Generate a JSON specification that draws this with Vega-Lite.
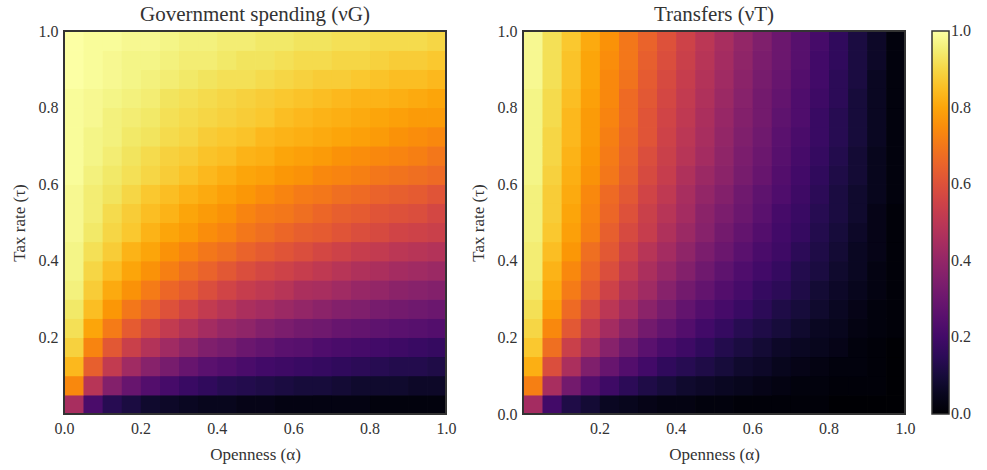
{
"$schema":"https://vega.github.io/schema/vega-lite/v6.json",
"background":"white",
"padding":{"left":10,"top":4,"right":5,"bottom":3},
"config":{
"font":"Liberation Serif",
"view":{"stroke":null},
"axis":{"grid":false,"domain":false,"ticks":false,"labelFontSize":16,"labelColor":"#333","titleFontSize":17,"titleFontWeight":"normal","titleColor":"#333","labelPadding":6,"labelFlush":false,"titlePadding":10},
"title":{"fontSize":21,"fontWeight":"normal","color":"#333","offset":-2},
"legend":{"gradientLength":383,"gradientThickness":17,"gradientStrokeColor":"#333","gradientStrokeWidth":1.5,"labelFontSize":16,"labelColor":"#333","labelOffset":5,"padding":0,"offset":17}
},
"datasets":{
"G":[
{"a":0,"t":0,"v":0.45},{"a":0.05,"t":0,"v":0.22},{"a":0.1,"t":0,"v":0.14},{"a":0.15,"t":0,"v":0.11},{"a":0.2,"t":0,"v":0.08},{"a":0.25,"t":0,"v":0.07},{"a":0.3,"t":0,"v":0.06},{"a":0.35,"t":0,"v":0.05},{"a":0.4,"t":0,"v":0.05},{"a":0.45,"t":0,"v":0.04},{"a":0.5,"t":0,"v":0.04},{"a":0.55,"t":0,"v":0.03},{"a":0.6,"t":0,"v":0.03},{"a":0.65,"t":0,"v":0.03},{"a":0.7,"t":0,"v":0.03},{"a":0.75,"t":0,"v":0.03},{"a":0.8,"t":0,"v":0.02},{"a":0.85,"t":0,"v":0.02},{"a":0.9,"t":0,"v":0.02},{"a":0.95,"t":0,"v":0.02},
{"a":0,"t":0.05,"v":0.74},{"a":0.05,"t":0.05,"v":0.49},{"a":0.1,"t":0.05,"v":0.36},{"a":0.15,"t":0.05,"v":0.29},{"a":0.2,"t":0.05,"v":0.24},{"a":0.25,"t":0.05,"v":0.21},{"a":0.3,"t":0.05,"v":0.18},{"a":0.35,"t":0.05,"v":0.16},{"a":0.4,"t":0.05,"v":0.14},{"a":0.45,"t":0.05,"v":0.13},{"a":0.5,"t":0.05,"v":0.12},{"a":0.55,"t":0.05,"v":0.11},{"a":0.6,"t":0.05,"v":0.1},{"a":0.65,"t":0.05,"v":0.1},{"a":0.7,"t":0.05,"v":0.09},{"a":0.75,"t":0.05,"v":0.08},{"a":0.8,"t":0.05,"v":0.08},{"a":0.85,"t":0.05,"v":0.08},{"a":0.9,"t":0.05,"v":0.07},{"a":0.95,"t":0.05,"v":0.07},
{"a":0,"t":0.1,"v":0.84},{"a":0.05,"t":0.1,"v":0.64},{"a":0.1,"t":0.1,"v":0.52},{"a":0.15,"t":0.1,"v":0.43},{"a":0.2,"t":0.1,"v":0.37},{"a":0.25,"t":0.1,"v":0.33},{"a":0.3,"t":0.1,"v":0.29},{"a":0.35,"t":0.1,"v":0.26},{"a":0.4,"t":0.1,"v":0.24},{"a":0.45,"t":0.1,"v":0.22},{"a":0.5,"t":0.1,"v":0.2},{"a":0.55,"t":0.1,"v":0.19},{"a":0.6,"t":0.1,"v":0.18},{"a":0.65,"t":0.1,"v":0.17},{"a":0.7,"t":0.1,"v":0.16},{"a":0.75,"t":0.1,"v":0.15},{"a":0.8,"t":0.1,"v":0.14},{"a":0.85,"t":0.1,"v":0.13},{"a":0.9,"t":0.1,"v":0.13},{"a":0.95,"t":0.1,"v":0.12},
{"a":0,"t":0.15,"v":0.89},{"a":0.05,"t":0.15,"v":0.73},{"a":0.1,"t":0.15,"v":0.62},{"a":0.15,"t":0.15,"v":0.54},{"a":0.2,"t":0.15,"v":0.48},{"a":0.25,"t":0.15,"v":0.43},{"a":0.3,"t":0.15,"v":0.39},{"a":0.35,"t":0.15,"v":0.35},{"a":0.4,"t":0.15,"v":0.33},{"a":0.45,"t":0.15,"v":0.3},{"a":0.5,"t":0.15,"v":0.28},{"a":0.55,"t":0.15,"v":0.26},{"a":0.6,"t":0.15,"v":0.25},{"a":0.65,"t":0.15,"v":0.23},{"a":0.7,"t":0.15,"v":0.22},{"a":0.75,"t":0.15,"v":0.21},{"a":0.8,"t":0.15,"v":0.2},{"a":0.85,"t":0.15,"v":0.19},{"a":0.9,"t":0.15,"v":0.18},{"a":0.95,"t":0.15,"v":0.17},
{"a":0,"t":0.2,"v":0.92},{"a":0.05,"t":0.2,"v":0.8},{"a":0.1,"t":0.2,"v":0.71},{"a":0.15,"t":0.2,"v":0.63},{"a":0.2,"t":0.2,"v":0.57},{"a":0.25,"t":0.2,"v":0.52},{"a":0.3,"t":0.2,"v":0.48},{"a":0.35,"t":0.2,"v":0.44},{"a":0.4,"t":0.2,"v":0.41},{"a":0.45,"t":0.2,"v":0.39},{"a":0.5,"t":0.2,"v":0.36},{"a":0.55,"t":0.2,"v":0.34},{"a":0.6,"t":0.2,"v":0.32},{"a":0.65,"t":0.2,"v":0.31},{"a":0.7,"t":0.2,"v":0.29},{"a":0.75,"t":0.2,"v":0.28},{"a":0.8,"t":0.2,"v":0.27},{"a":0.85,"t":0.2,"v":0.26},{"a":0.9,"t":0.2,"v":0.25},{"a":0.95,"t":0.2,"v":0.24},
{"a":0,"t":0.25,"v":0.94},{"a":0.05,"t":0.25,"v":0.85},{"a":0.1,"t":0.25,"v":0.77},{"a":0.15,"t":0.25,"v":0.7},{"a":0.2,"t":0.25,"v":0.65},{"a":0.25,"t":0.25,"v":0.6},{"a":0.3,"t":0.25,"v":0.56},{"a":0.35,"t":0.25,"v":0.52},{"a":0.4,"t":0.25,"v":0.49},{"a":0.45,"t":0.25,"v":0.46},{"a":0.5,"t":0.25,"v":0.44},{"a":0.55,"t":0.25,"v":0.42},{"a":0.6,"t":0.25,"v":0.4},{"a":0.65,"t":0.25,"v":0.38},{"a":0.7,"t":0.25,"v":0.36},{"a":0.75,"t":0.25,"v":0.35},{"a":0.8,"t":0.25,"v":0.33},{"a":0.85,"t":0.25,"v":0.32},{"a":0.9,"t":0.25,"v":0.31},{"a":0.95,"t":0.25,"v":0.3},
{"a":0,"t":0.3,"v":0.96},{"a":0.05,"t":0.3,"v":0.88},{"a":0.1,"t":0.3,"v":0.81},{"a":0.15,"t":0.3,"v":0.76},{"a":0.2,"t":0.3,"v":0.71},{"a":0.25,"t":0.3,"v":0.66},{"a":0.3,"t":0.3,"v":0.63},{"a":0.35,"t":0.3,"v":0.59},{"a":0.4,"t":0.3,"v":0.56},{"a":0.45,"t":0.3,"v":0.53},{"a":0.5,"t":0.3,"v":0.51},{"a":0.55,"t":0.3,"v":0.49},{"a":0.6,"t":0.3,"v":0.46},{"a":0.65,"t":0.3,"v":0.45},{"a":0.7,"t":0.3,"v":0.43},{"a":0.75,"t":0.3,"v":0.41},{"a":0.8,"t":0.3,"v":0.4},{"a":0.85,"t":0.3,"v":0.38},{"a":0.9,"t":0.3,"v":0.37},{"a":0.95,"t":0.3,"v":0.36},
{"a":0,"t":0.35,"v":0.97},{"a":0.05,"t":0.35,"v":0.9},{"a":0.1,"t":0.35,"v":0.85},{"a":0.15,"t":0.35,"v":0.8},{"a":0.2,"t":0.35,"v":0.76},{"a":0.25,"t":0.35,"v":0.72},{"a":0.3,"t":0.35,"v":0.68},{"a":0.35,"t":0.35,"v":0.65},{"a":0.4,"t":0.35,"v":0.62},{"a":0.45,"t":0.35,"v":0.59},{"a":0.5,"t":0.35,"v":0.57},{"a":0.55,"t":0.35,"v":0.55},{"a":0.6,"t":0.35,"v":0.53},{"a":0.65,"t":0.35,"v":0.51},{"a":0.7,"t":0.35,"v":0.49},{"a":0.75,"t":0.35,"v":0.47},{"a":0.8,"t":0.35,"v":0.46},{"a":0.85,"t":0.35,"v":0.44},{"a":0.9,"t":0.35,"v":0.43},{"a":0.95,"t":0.35,"v":0.42},
{"a":0,"t":0.4,"v":0.97},{"a":0.05,"t":0.4,"v":0.92},{"a":0.1,"t":0.4,"v":0.88},{"a":0.15,"t":0.4,"v":0.83},{"a":0.2,"t":0.4,"v":0.8},{"a":0.25,"t":0.4,"v":0.76},{"a":0.3,"t":0.4,"v":0.73},{"a":0.35,"t":0.4,"v":0.7},{"a":0.4,"t":0.4,"v":0.68},{"a":0.45,"t":0.4,"v":0.65},{"a":0.5,"t":0.4,"v":0.63},{"a":0.55,"t":0.4,"v":0.61},{"a":0.6,"t":0.4,"v":0.59},{"a":0.65,"t":0.4,"v":0.57},{"a":0.7,"t":0.4,"v":0.55},{"a":0.75,"t":0.4,"v":0.53},{"a":0.8,"t":0.4,"v":0.52},{"a":0.85,"t":0.4,"v":0.5},{"a":0.9,"t":0.4,"v":0.49},{"a":0.95,"t":0.4,"v":0.48},
{"a":0,"t":0.45,"v":0.98},{"a":0.05,"t":0.45,"v":0.94},{"a":0.1,"t":0.45,"v":0.9},{"a":0.15,"t":0.45,"v":0.87},{"a":0.2,"t":0.45,"v":0.83},{"a":0.25,"t":0.45,"v":0.8},{"a":0.3,"t":0.45,"v":0.78},{"a":0.35,"t":0.45,"v":0.75},{"a":0.4,"t":0.45,"v":0.73},{"a":0.45,"t":0.45,"v":0.7},{"a":0.5,"t":0.45,"v":0.68},{"a":0.55,"t":0.45,"v":0.66},{"a":0.6,"t":0.45,"v":0.64},{"a":0.65,"t":0.45,"v":0.63},{"a":0.7,"t":0.45,"v":0.61},{"a":0.75,"t":0.45,"v":0.59},{"a":0.8,"t":0.45,"v":0.58},{"a":0.85,"t":0.45,"v":0.56},{"a":0.9,"t":0.45,"v":0.55},{"a":0.95,"t":0.45,"v":0.54},
{"a":0,"t":0.5,"v":0.98},{"a":0.05,"t":0.5,"v":0.95},{"a":0.1,"t":0.5,"v":0.91},{"a":0.15,"t":0.5,"v":0.88},{"a":0.2,"t":0.5,"v":0.85},{"a":0.25,"t":0.5,"v":0.83},{"a":0.3,"t":0.5,"v":0.8},{"a":0.35,"t":0.5,"v":0.78},{"a":0.4,"t":0.5,"v":0.76},{"a":0.45,"t":0.5,"v":0.73},{"a":0.5,"t":0.5,"v":0.71},{"a":0.55,"t":0.5,"v":0.7},{"a":0.6,"t":0.5,"v":0.68},{"a":0.65,"t":0.5,"v":0.66},{"a":0.7,"t":0.5,"v":0.64},{"a":0.75,"t":0.5,"v":0.63},{"a":0.8,"t":0.5,"v":0.61},{"a":0.85,"t":0.5,"v":0.6},{"a":0.9,"t":0.5,"v":0.59},{"a":0.95,"t":0.5,"v":0.57},
{"a":0,"t":0.55,"v":0.98},{"a":0.05,"t":0.55,"v":0.95},{"a":0.1,"t":0.55,"v":0.93},{"a":0.15,"t":0.55,"v":0.9},{"a":0.2,"t":0.55,"v":0.87},{"a":0.25,"t":0.55,"v":0.85},{"a":0.3,"t":0.55,"v":0.83},{"a":0.35,"t":0.55,"v":0.81},{"a":0.4,"t":0.55,"v":0.79},{"a":0.45,"t":0.55,"v":0.77},{"a":0.5,"t":0.55,"v":0.75},{"a":0.55,"t":0.55,"v":0.73},{"a":0.6,"t":0.55,"v":0.71},{"a":0.65,"t":0.55,"v":0.7},{"a":0.7,"t":0.55,"v":0.68},{"a":0.75,"t":0.55,"v":0.67},{"a":0.8,"t":0.55,"v":0.65},{"a":0.85,"t":0.55,"v":0.64},{"a":0.9,"t":0.55,"v":0.63},{"a":0.95,"t":0.55,"v":0.61},
{"a":0,"t":0.6,"v":0.99},{"a":0.05,"t":0.6,"v":0.96},{"a":0.1,"t":0.6,"v":0.94},{"a":0.15,"t":0.6,"v":0.92},{"a":0.2,"t":0.6,"v":0.9},{"a":0.25,"t":0.6,"v":0.88},{"a":0.3,"t":0.6,"v":0.86},{"a":0.35,"t":0.6,"v":0.84},{"a":0.4,"t":0.6,"v":0.82},{"a":0.45,"t":0.6,"v":0.8},{"a":0.5,"t":0.6,"v":0.79},{"a":0.55,"t":0.6,"v":0.77},{"a":0.6,"t":0.6,"v":0.76},{"a":0.65,"t":0.6,"v":0.74},{"a":0.7,"t":0.6,"v":0.73},{"a":0.75,"t":0.6,"v":0.72},{"a":0.8,"t":0.6,"v":0.7},{"a":0.85,"t":0.6,"v":0.69},{"a":0.9,"t":0.6,"v":0.68},{"a":0.95,"t":0.6,"v":0.67},
{"a":0,"t":0.65,"v":0.99},{"a":0.05,"t":0.65,"v":0.97},{"a":0.1,"t":0.65,"v":0.95},{"a":0.15,"t":0.65,"v":0.93},{"a":0.2,"t":0.65,"v":0.91},{"a":0.25,"t":0.65,"v":0.89},{"a":0.3,"t":0.65,"v":0.88},{"a":0.35,"t":0.65,"v":0.86},{"a":0.4,"t":0.65,"v":0.85},{"a":0.45,"t":0.65,"v":0.83},{"a":0.5,"t":0.65,"v":0.82},{"a":0.55,"t":0.65,"v":0.8},{"a":0.6,"t":0.65,"v":0.79},{"a":0.65,"t":0.65,"v":0.78},{"a":0.7,"t":0.65,"v":0.76},{"a":0.75,"t":0.65,"v":0.75},{"a":0.8,"t":0.65,"v":0.74},{"a":0.85,"t":0.65,"v":0.73},{"a":0.9,"t":0.65,"v":0.72},{"a":0.95,"t":0.65,"v":0.7},
{"a":0,"t":0.7,"v":0.99},{"a":0.05,"t":0.7,"v":0.97},{"a":0.1,"t":0.7,"v":0.96},{"a":0.15,"t":0.7,"v":0.94},{"a":0.2,"t":0.7,"v":0.93},{"a":0.25,"t":0.7,"v":0.91},{"a":0.3,"t":0.7,"v":0.9},{"a":0.35,"t":0.7,"v":0.88},{"a":0.4,"t":0.7,"v":0.87},{"a":0.45,"t":0.7,"v":0.86},{"a":0.5,"t":0.7,"v":0.84},{"a":0.55,"t":0.7,"v":0.83},{"a":0.6,"t":0.7,"v":0.82},{"a":0.65,"t":0.7,"v":0.81},{"a":0.7,"t":0.7,"v":0.8},{"a":0.75,"t":0.7,"v":0.79},{"a":0.8,"t":0.7,"v":0.78},{"a":0.85,"t":0.7,"v":0.76},{"a":0.9,"t":0.7,"v":0.75},{"a":0.95,"t":0.7,"v":0.74},
{"a":0,"t":0.75,"v":0.99},{"a":0.05,"t":0.75,"v":0.98},{"a":0.1,"t":0.75,"v":0.96},{"a":0.15,"t":0.75,"v":0.95},{"a":0.2,"t":0.75,"v":0.94},{"a":0.25,"t":0.75,"v":0.92},{"a":0.3,"t":0.75,"v":0.91},{"a":0.35,"t":0.75,"v":0.9},{"a":0.4,"t":0.75,"v":0.89},{"a":0.45,"t":0.75,"v":0.88},{"a":0.5,"t":0.75,"v":0.87},{"a":0.55,"t":0.75,"v":0.85},{"a":0.6,"t":0.75,"v":0.84},{"a":0.65,"t":0.75,"v":0.83},{"a":0.7,"t":0.75,"v":0.82},{"a":0.75,"t":0.75,"v":0.81},{"a":0.8,"t":0.75,"v":0.8},{"a":0.85,"t":0.75,"v":0.79},{"a":0.9,"t":0.75,"v":0.78},{"a":0.95,"t":0.75,"v":0.78},
{"a":0,"t":0.8,"v":0.99},{"a":0.05,"t":0.8,"v":0.98},{"a":0.1,"t":0.8,"v":0.97},{"a":0.15,"t":0.8,"v":0.96},{"a":0.2,"t":0.8,"v":0.95},{"a":0.25,"t":0.8,"v":0.93},{"a":0.3,"t":0.8,"v":0.92},{"a":0.35,"t":0.8,"v":0.91},{"a":0.4,"t":0.8,"v":0.9},{"a":0.45,"t":0.8,"v":0.89},{"a":0.5,"t":0.8,"v":0.88},{"a":0.55,"t":0.8,"v":0.87},{"a":0.6,"t":0.8,"v":0.86},{"a":0.65,"t":0.8,"v":0.85},{"a":0.7,"t":0.8,"v":0.84},{"a":0.75,"t":0.8,"v":0.83},{"a":0.8,"t":0.8,"v":0.83},{"a":0.85,"t":0.8,"v":0.82},{"a":0.9,"t":0.8,"v":0.81},{"a":0.95,"t":0.8,"v":0.8},
{"a":0,"t":0.85,"v":1},{"a":0.05,"t":0.85,"v":0.99},{"a":0.1,"t":0.85,"v":0.98},{"a":0.15,"t":0.85,"v":0.97},{"a":0.2,"t":0.85,"v":0.96},{"a":0.25,"t":0.85,"v":0.95},{"a":0.3,"t":0.85,"v":0.94},{"a":0.35,"t":0.85,"v":0.93},{"a":0.4,"t":0.85,"v":0.92},{"a":0.45,"t":0.85,"v":0.92},{"a":0.5,"t":0.85,"v":0.91},{"a":0.55,"t":0.85,"v":0.9},{"a":0.6,"t":0.85,"v":0.89},{"a":0.65,"t":0.85,"v":0.88},{"a":0.7,"t":0.85,"v":0.88},{"a":0.75,"t":0.85,"v":0.87},{"a":0.8,"t":0.85,"v":0.86},{"a":0.85,"t":0.85,"v":0.85},{"a":0.9,"t":0.85,"v":0.85},{"a":0.95,"t":0.85,"v":0.84},
{"a":0,"t":0.9,"v":1},{"a":0.05,"t":0.9,"v":0.99},{"a":0.1,"t":0.9,"v":0.98},{"a":0.15,"t":0.9,"v":0.97},{"a":0.2,"t":0.9,"v":0.97},{"a":0.25,"t":0.9,"v":0.96},{"a":0.3,"t":0.9,"v":0.95},{"a":0.35,"t":0.9,"v":0.95},{"a":0.4,"t":0.9,"v":0.94},{"a":0.45,"t":0.9,"v":0.93},{"a":0.5,"t":0.9,"v":0.93},{"a":0.55,"t":0.9,"v":0.92},{"a":0.6,"t":0.9,"v":0.91},{"a":0.65,"t":0.9,"v":0.91},{"a":0.7,"t":0.9,"v":0.9},{"a":0.75,"t":0.9,"v":0.9},{"a":0.8,"t":0.9,"v":0.89},{"a":0.85,"t":0.9,"v":0.88},{"a":0.9,"t":0.9,"v":0.88},{"a":0.95,"t":0.9,"v":0.87},
{"a":0,"t":0.95,"v":1},{"a":0.05,"t":0.95,"v":0.99},{"a":0.1,"t":0.95,"v":0.99},{"a":0.15,"t":0.95,"v":0.98},{"a":0.2,"t":0.95,"v":0.98},{"a":0.25,"t":0.95,"v":0.97},{"a":0.3,"t":0.95,"v":0.96},{"a":0.35,"t":0.95,"v":0.96},{"a":0.4,"t":0.95,"v":0.95},{"a":0.45,"t":0.95,"v":0.95},{"a":0.5,"t":0.95,"v":0.94},{"a":0.55,"t":0.95,"v":0.94},{"a":0.6,"t":0.95,"v":0.93},{"a":0.65,"t":0.95,"v":0.93},{"a":0.7,"t":0.95,"v":0.92},{"a":0.75,"t":0.95,"v":0.92},{"a":0.8,"t":0.95,"v":0.91},{"a":0.85,"t":0.95,"v":0.91},{"a":0.9,"t":0.95,"v":0.91},{"a":0.95,"t":0.95,"v":0.9}
],
"T":[
{"a":0,"t":0,"v":0.44},{"a":0.05,"t":0,"v":0.2},{"a":0.1,"t":0,"v":0.12},{"a":0.15,"t":0,"v":0.09},{"a":0.2,"t":0,"v":0.06},{"a":0.25,"t":0,"v":0.05},{"a":0.3,"t":0,"v":0.04},{"a":0.35,"t":0,"v":0.03},{"a":0.4,"t":0,"v":0.03},{"a":0.45,"t":0,"v":0.02},{"a":0.5,"t":0,"v":0.02},{"a":0.55,"t":0,"v":0.01},{"a":0.6,"t":0,"v":0.01},{"a":0.65,"t":0,"v":0.01},{"a":0.7,"t":0,"v":0.01},{"a":0.75,"t":0,"v":0.01},{"a":0.8,"t":0,"v":0},{"a":0.85,"t":0,"v":0},{"a":0.9,"t":0,"v":0},{"a":0.95,"t":0,"v":0},
{"a":0,"t":0.05,"v":0.72},{"a":0.05,"t":0.05,"v":0.45},{"a":0.1,"t":0.05,"v":0.32},{"a":0.15,"t":0.05,"v":0.24},{"a":0.2,"t":0.05,"v":0.19},{"a":0.25,"t":0.05,"v":0.15},{"a":0.3,"t":0.05,"v":0.12},{"a":0.35,"t":0.05,"v":0.1},{"a":0.4,"t":0.05,"v":0.08},{"a":0.45,"t":0.05,"v":0.07},{"a":0.5,"t":0.05,"v":0.06},{"a":0.55,"t":0.05,"v":0.05},{"a":0.6,"t":0.05,"v":0.04},{"a":0.65,"t":0.05,"v":0.03},{"a":0.7,"t":0.05,"v":0.02},{"a":0.75,"t":0.05,"v":0.02},{"a":0.8,"t":0.05,"v":0.01},{"a":0.85,"t":0.05,"v":0.01},{"a":0.9,"t":0.05,"v":0.01},{"a":0.95,"t":0.05,"v":0},
{"a":0,"t":0.1,"v":0.82},{"a":0.05,"t":0.1,"v":0.59},{"a":0.1,"t":0.1,"v":0.46},{"a":0.15,"t":0.1,"v":0.35},{"a":0.2,"t":0.1,"v":0.29},{"a":0.25,"t":0.1,"v":0.24},{"a":0.3,"t":0.1,"v":0.2},{"a":0.35,"t":0.1,"v":0.16},{"a":0.4,"t":0.1,"v":0.14},{"a":0.45,"t":0.1,"v":0.12},{"a":0.5,"t":0.1,"v":0.1},{"a":0.55,"t":0.1,"v":0.08},{"a":0.6,"t":0.1,"v":0.07},{"a":0.65,"t":0.1,"v":0.05},{"a":0.7,"t":0.1,"v":0.04},{"a":0.75,"t":0.1,"v":0.03},{"a":0.8,"t":0.1,"v":0.02},{"a":0.85,"t":0.1,"v":0.02},{"a":0.9,"t":0.1,"v":0.01},{"a":0.95,"t":0.1,"v":0},
{"a":0,"t":0.15,"v":0.87},{"a":0.05,"t":0.15,"v":0.68},{"a":0.1,"t":0.15,"v":0.54},{"a":0.15,"t":0.15,"v":0.45},{"a":0.2,"t":0.15,"v":0.37},{"a":0.25,"t":0.15,"v":0.31},{"a":0.3,"t":0.15,"v":0.26},{"a":0.35,"t":0.15,"v":0.22},{"a":0.4,"t":0.15,"v":0.19},{"a":0.45,"t":0.15,"v":0.16},{"a":0.5,"t":0.15,"v":0.13},{"a":0.55,"t":0.15,"v":0.11},{"a":0.6,"t":0.15,"v":0.09},{"a":0.65,"t":0.15,"v":0.07},{"a":0.7,"t":0.15,"v":0.06},{"a":0.75,"t":0.15,"v":0.05},{"a":0.8,"t":0.15,"v":0.04},{"a":0.85,"t":0.15,"v":0.02},{"a":0.9,"t":0.15,"v":0.01},{"a":0.95,"t":0.15,"v":0},
{"a":0,"t":0.2,"v":0.9},{"a":0.05,"t":0.2,"v":0.74},{"a":0.1,"t":0.2,"v":0.62},{"a":0.15,"t":0.2,"v":0.52},{"a":0.2,"t":0.2,"v":0.44},{"a":0.25,"t":0.2,"v":0.38},{"a":0.3,"t":0.2,"v":0.32},{"a":0.35,"t":0.2,"v":0.28},{"a":0.4,"t":0.2,"v":0.24},{"a":0.45,"t":0.2,"v":0.2},{"a":0.5,"t":0.2,"v":0.17},{"a":0.55,"t":0.2,"v":0.14},{"a":0.6,"t":0.2,"v":0.12},{"a":0.65,"t":0.2,"v":0.1},{"a":0.7,"t":0.2,"v":0.08},{"a":0.75,"t":0.2,"v":0.06},{"a":0.8,"t":0.2,"v":0.05},{"a":0.85,"t":0.2,"v":0.03},{"a":0.9,"t":0.2,"v":0.02},{"a":0.95,"t":0.2,"v":0.01},
{"a":0,"t":0.25,"v":0.92},{"a":0.05,"t":0.25,"v":0.79},{"a":0.1,"t":0.25,"v":0.67},{"a":0.15,"t":0.25,"v":0.58},{"a":0.2,"t":0.25,"v":0.5},{"a":0.25,"t":0.25,"v":0.44},{"a":0.3,"t":0.25,"v":0.38},{"a":0.35,"t":0.25,"v":0.33},{"a":0.4,"t":0.25,"v":0.28},{"a":0.45,"t":0.25,"v":0.24},{"a":0.5,"t":0.25,"v":0.21},{"a":0.55,"t":0.25,"v":0.18},{"a":0.6,"t":0.25,"v":0.15},{"a":0.65,"t":0.25,"v":0.12},{"a":0.7,"t":0.25,"v":0.1},{"a":0.75,"t":0.25,"v":0.08},{"a":0.8,"t":0.25,"v":0.06},{"a":0.85,"t":0.25,"v":0.04},{"a":0.9,"t":0.25,"v":0.02},{"a":0.95,"t":0.25,"v":0.01},
{"a":0,"t":0.3,"v":0.94},{"a":0.05,"t":0.3,"v":0.81},{"a":0.1,"t":0.3,"v":0.71},{"a":0.15,"t":0.3,"v":0.63},{"a":0.2,"t":0.3,"v":0.55},{"a":0.25,"t":0.3,"v":0.48},{"a":0.3,"t":0.3,"v":0.43},{"a":0.35,"t":0.3,"v":0.37},{"a":0.4,"t":0.3,"v":0.32},{"a":0.45,"t":0.3,"v":0.28},{"a":0.5,"t":0.3,"v":0.24},{"a":0.55,"t":0.3,"v":0.21},{"a":0.6,"t":0.3,"v":0.17},{"a":0.65,"t":0.3,"v":0.15},{"a":0.7,"t":0.3,"v":0.12},{"a":0.75,"t":0.3,"v":0.09},{"a":0.8,"t":0.3,"v":0.07},{"a":0.85,"t":0.3,"v":0.05},{"a":0.9,"t":0.3,"v":0.03},{"a":0.95,"t":0.3,"v":0.01},
{"a":0,"t":0.35,"v":0.95},{"a":0.05,"t":0.35,"v":0.83},{"a":0.1,"t":0.35,"v":0.74},{"a":0.15,"t":0.35,"v":0.66},{"a":0.2,"t":0.35,"v":0.59},{"a":0.25,"t":0.35,"v":0.52},{"a":0.3,"t":0.35,"v":0.46},{"a":0.35,"t":0.35,"v":0.41},{"a":0.4,"t":0.35,"v":0.36},{"a":0.45,"t":0.35,"v":0.31},{"a":0.5,"t":0.35,"v":0.27},{"a":0.55,"t":0.35,"v":0.23},{"a":0.6,"t":0.35,"v":0.2},{"a":0.65,"t":0.35,"v":0.17},{"a":0.7,"t":0.35,"v":0.13},{"a":0.75,"t":0.35,"v":0.11},{"a":0.8,"t":0.35,"v":0.08},{"a":0.85,"t":0.35,"v":0.06},{"a":0.9,"t":0.35,"v":0.03},{"a":0.95,"t":0.35,"v":0.01},
{"a":0,"t":0.4,"v":0.95},{"a":0.05,"t":0.4,"v":0.85},{"a":0.1,"t":0.4,"v":0.77},{"a":0.15,"t":0.4,"v":0.68},{"a":0.2,"t":0.4,"v":0.62},{"a":0.25,"t":0.4,"v":0.55},{"a":0.3,"t":0.4,"v":0.49},{"a":0.35,"t":0.4,"v":0.44},{"a":0.4,"t":0.4,"v":0.39},{"a":0.45,"t":0.4,"v":0.34},{"a":0.5,"t":0.4,"v":0.3},{"a":0.55,"t":0.4,"v":0.26},{"a":0.6,"t":0.4,"v":0.22},{"a":0.65,"t":0.4,"v":0.19},{"a":0.7,"t":0.4,"v":0.15},{"a":0.75,"t":0.4,"v":0.12},{"a":0.8,"t":0.4,"v":0.09},{"a":0.85,"t":0.4,"v":0.06},{"a":0.9,"t":0.4,"v":0.04},{"a":0.95,"t":0.4,"v":0.01},
{"a":0,"t":0.45,"v":0.96},{"a":0.05,"t":0.45,"v":0.87},{"a":0.1,"t":0.45,"v":0.79},{"a":0.15,"t":0.45,"v":0.72},{"a":0.2,"t":0.45,"v":0.64},{"a":0.25,"t":0.45,"v":0.58},{"a":0.3,"t":0.45,"v":0.53},{"a":0.35,"t":0.45,"v":0.47},{"a":0.4,"t":0.45,"v":0.42},{"a":0.45,"t":0.45,"v":0.37},{"a":0.5,"t":0.45,"v":0.32},{"a":0.55,"t":0.45,"v":0.28},{"a":0.6,"t":0.45,"v":0.24},{"a":0.65,"t":0.45,"v":0.2},{"a":0.7,"t":0.45,"v":0.17},{"a":0.75,"t":0.45,"v":0.13},{"a":0.8,"t":0.45,"v":0.1},{"a":0.85,"t":0.45,"v":0.07},{"a":0.9,"t":0.45,"v":0.04},{"a":0.95,"t":0.45,"v":0.01},
{"a":0,"t":0.5,"v":0.96},{"a":0.05,"t":0.5,"v":0.88},{"a":0.1,"t":0.5,"v":0.8},{"a":0.15,"t":0.5,"v":0.73},{"a":0.2,"t":0.5,"v":0.66},{"a":0.25,"t":0.5,"v":0.6},{"a":0.3,"t":0.5,"v":0.54},{"a":0.35,"t":0.5,"v":0.49},{"a":0.4,"t":0.5,"v":0.44},{"a":0.45,"t":0.5,"v":0.38},{"a":0.5,"t":0.5,"v":0.34},{"a":0.55,"t":0.5,"v":0.3},{"a":0.6,"t":0.5,"v":0.26},{"a":0.65,"t":0.5,"v":0.21},{"a":0.7,"t":0.5,"v":0.18},{"a":0.75,"t":0.5,"v":0.14},{"a":0.8,"t":0.5,"v":0.11},{"a":0.85,"t":0.5,"v":0.08},{"a":0.9,"t":0.5,"v":0.04},{"a":0.95,"t":0.5,"v":0.01},
{"a":0,"t":0.55,"v":0.96},{"a":0.05,"t":0.55,"v":0.88},{"a":0.1,"t":0.55,"v":0.81},{"a":0.15,"t":0.55,"v":0.74},{"a":0.2,"t":0.55,"v":0.67},{"a":0.25,"t":0.55,"v":0.62},{"a":0.3,"t":0.55,"v":0.56},{"a":0.35,"t":0.55,"v":0.51},{"a":0.4,"t":0.55,"v":0.45},{"a":0.45,"t":0.55,"v":0.4},{"a":0.5,"t":0.55,"v":0.36},{"a":0.55,"t":0.55,"v":0.31},{"a":0.6,"t":0.55,"v":0.27},{"a":0.65,"t":0.55,"v":0.23},{"a":0.7,"t":0.55,"v":0.19},{"a":0.75,"t":0.55,"v":0.15},{"a":0.8,"t":0.55,"v":0.11},{"a":0.85,"t":0.55,"v":0.08},{"a":0.9,"t":0.55,"v":0.05},{"a":0.95,"t":0.55,"v":0.02},
{"a":0,"t":0.6,"v":0.97},{"a":0.05,"t":0.6,"v":0.89},{"a":0.1,"t":0.6,"v":0.82},{"a":0.15,"t":0.6,"v":0.76},{"a":0.2,"t":0.6,"v":0.7},{"a":0.25,"t":0.6,"v":0.64},{"a":0.3,"t":0.6,"v":0.58},{"a":0.35,"t":0.6,"v":0.53},{"a":0.4,"t":0.6,"v":0.47},{"a":0.45,"t":0.6,"v":0.42},{"a":0.5,"t":0.6,"v":0.38},{"a":0.55,"t":0.6,"v":0.33},{"a":0.6,"t":0.6,"v":0.29},{"a":0.65,"t":0.6,"v":0.24},{"a":0.7,"t":0.6,"v":0.2},{"a":0.75,"t":0.6,"v":0.16},{"a":0.8,"t":0.6,"v":0.12},{"a":0.85,"t":0.6,"v":0.09},{"a":0.9,"t":0.6,"v":0.05},{"a":0.95,"t":0.6,"v":0.02},
{"a":0,"t":0.65,"v":0.97},{"a":0.05,"t":0.65,"v":0.9},{"a":0.1,"t":0.65,"v":0.83},{"a":0.15,"t":0.65,"v":0.77},{"a":0.2,"t":0.65,"v":0.71},{"a":0.25,"t":0.65,"v":0.65},{"a":0.3,"t":0.65,"v":0.59},{"a":0.35,"t":0.65,"v":0.54},{"a":0.4,"t":0.65,"v":0.49},{"a":0.45,"t":0.65,"v":0.44},{"a":0.5,"t":0.65,"v":0.39},{"a":0.55,"t":0.65,"v":0.34},{"a":0.6,"t":0.65,"v":0.3},{"a":0.65,"t":0.65,"v":0.25},{"a":0.7,"t":0.65,"v":0.21},{"a":0.75,"t":0.65,"v":0.17},{"a":0.8,"t":0.65,"v":0.13},{"a":0.85,"t":0.65,"v":0.09},{"a":0.9,"t":0.65,"v":0.05},{"a":0.95,"t":0.65,"v":0.02},
{"a":0,"t":0.7,"v":0.97},{"a":0.05,"t":0.7,"v":0.9},{"a":0.1,"t":0.7,"v":0.84},{"a":0.15,"t":0.7,"v":0.78},{"a":0.2,"t":0.7,"v":0.72},{"a":0.25,"t":0.7,"v":0.66},{"a":0.3,"t":0.7,"v":0.61},{"a":0.35,"t":0.7,"v":0.55},{"a":0.4,"t":0.7,"v":0.5},{"a":0.45,"t":0.7,"v":0.45},{"a":0.5,"t":0.7,"v":0.4},{"a":0.55,"t":0.7,"v":0.35},{"a":0.6,"t":0.7,"v":0.31},{"a":0.65,"t":0.7,"v":0.26},{"a":0.7,"t":0.7,"v":0.22},{"a":0.75,"t":0.7,"v":0.18},{"a":0.8,"t":0.7,"v":0.14},{"a":0.85,"t":0.7,"v":0.1},{"a":0.9,"t":0.7,"v":0.06},{"a":0.95,"t":0.7,"v":0.02},
{"a":0,"t":0.75,"v":0.97},{"a":0.05,"t":0.75,"v":0.91},{"a":0.1,"t":0.75,"v":0.84},{"a":0.15,"t":0.75,"v":0.78},{"a":0.2,"t":0.75,"v":0.73},{"a":0.25,"t":0.75,"v":0.67},{"a":0.3,"t":0.75,"v":0.61},{"a":0.35,"t":0.75,"v":0.56},{"a":0.4,"t":0.75,"v":0.51},{"a":0.45,"t":0.75,"v":0.46},{"a":0.5,"t":0.75,"v":0.41},{"a":0.55,"t":0.75,"v":0.36},{"a":0.6,"t":0.75,"v":0.32},{"a":0.65,"t":0.75,"v":0.27},{"a":0.7,"t":0.75,"v":0.23},{"a":0.75,"t":0.75,"v":0.18},{"a":0.8,"t":0.75,"v":0.14},{"a":0.85,"t":0.75,"v":0.1},{"a":0.9,"t":0.75,"v":0.06},{"a":0.95,"t":0.75,"v":0.02},
{"a":0,"t":0.8,"v":0.97},{"a":0.05,"t":0.8,"v":0.91},{"a":0.1,"t":0.8,"v":0.85},{"a":0.15,"t":0.8,"v":0.79},{"a":0.2,"t":0.8,"v":0.74},{"a":0.25,"t":0.8,"v":0.67},{"a":0.3,"t":0.8,"v":0.62},{"a":0.35,"t":0.8,"v":0.57},{"a":0.4,"t":0.8,"v":0.52},{"a":0.45,"t":0.8,"v":0.47},{"a":0.5,"t":0.8,"v":0.42},{"a":0.55,"t":0.8,"v":0.37},{"a":0.6,"t":0.8,"v":0.32},{"a":0.65,"t":0.8,"v":0.28},{"a":0.7,"t":0.8,"v":0.23},{"a":0.75,"t":0.8,"v":0.19},{"a":0.8,"t":0.8,"v":0.15},{"a":0.85,"t":0.8,"v":0.1},{"a":0.9,"t":0.8,"v":0.06},{"a":0.95,"t":0.8,"v":0.02},
{"a":0,"t":0.85,"v":0.98},{"a":0.05,"t":0.85,"v":0.92},{"a":0.1,"t":0.85,"v":0.86},{"a":0.15,"t":0.85,"v":0.8},{"a":0.2,"t":0.85,"v":0.74},{"a":0.25,"t":0.85,"v":0.69},{"a":0.3,"t":0.85,"v":0.63},{"a":0.35,"t":0.85,"v":0.58},{"a":0.4,"t":0.85,"v":0.53},{"a":0.45,"t":0.85,"v":0.48},{"a":0.5,"t":0.85,"v":0.43},{"a":0.55,"t":0.85,"v":0.38},{"a":0.6,"t":0.85,"v":0.33},{"a":0.65,"t":0.85,"v":0.29},{"a":0.7,"t":0.85,"v":0.24},{"a":0.75,"t":0.85,"v":0.2},{"a":0.8,"t":0.85,"v":0.15},{"a":0.85,"t":0.85,"v":0.11},{"a":0.9,"t":0.85,"v":0.06},{"a":0.95,"t":0.85,"v":0.02},
{"a":0,"t":0.9,"v":0.98},{"a":0.05,"t":0.9,"v":0.92},{"a":0.1,"t":0.9,"v":0.86},{"a":0.15,"t":0.9,"v":0.8},{"a":0.2,"t":0.9,"v":0.75},{"a":0.25,"t":0.9,"v":0.7},{"a":0.3,"t":0.9,"v":0.64},{"a":0.35,"t":0.9,"v":0.59},{"a":0.4,"t":0.9,"v":0.54},{"a":0.45,"t":0.9,"v":0.49},{"a":0.5,"t":0.9,"v":0.44},{"a":0.55,"t":0.9,"v":0.39},{"a":0.6,"t":0.9,"v":0.34},{"a":0.65,"t":0.9,"v":0.3},{"a":0.7,"t":0.9,"v":0.25},{"a":0.75,"t":0.9,"v":0.2},{"a":0.8,"t":0.9,"v":0.16},{"a":0.85,"t":0.9,"v":0.11},{"a":0.9,"t":0.9,"v":0.07},{"a":0.95,"t":0.9,"v":0.02},
{"a":0,"t":0.95,"v":0.98},{"a":0.05,"t":0.95,"v":0.92},{"a":0.1,"t":0.95,"v":0.87},{"a":0.15,"t":0.95,"v":0.81},{"a":0.2,"t":0.95,"v":0.76},{"a":0.25,"t":0.95,"v":0.7},{"a":0.3,"t":0.95,"v":0.65},{"a":0.35,"t":0.95,"v":0.6},{"a":0.4,"t":0.95,"v":0.55},{"a":0.45,"t":0.95,"v":0.5},{"a":0.5,"t":0.95,"v":0.45},{"a":0.55,"t":0.95,"v":0.4},{"a":0.6,"t":0.95,"v":0.35},{"a":0.65,"t":0.95,"v":0.3},{"a":0.7,"t":0.95,"v":0.25},{"a":0.75,"t":0.95,"v":0.21},{"a":0.8,"t":0.95,"v":0.16},{"a":0.85,"t":0.95,"v":0.11},{"a":0.9,"t":0.95,"v":0.07},{"a":0.95,"t":0.95,"v":0.02}
]
},
"spacing":13,
"resolve":{"scale":{"color":"shared"}},
"hconcat":[
{"title":"Government spending (νG)","width":382,"height":383,
"layer":[
{"data":{"name":"G"},"mark":{"type":"rect","binSpacing":0},
"encoding":{
"x":{"field":"a","type":"quantitative","bin":{"step":0.05,"extent":[0,1]},"axis":{"values":[0,0.2,0.4,0.6,0.8,1],"format":".1f","title":"Openness (α)"}},
"y":{"field":"t","type":"quantitative","bin":{"step":0.05,"extent":[0,1]},"axis":{"values":[0.2,0.4,0.6,0.8,1],"format":".1f","title":"Tax rate (τ)"}},
"color":{"field":"v","type":"quantitative","scale":{"scheme":"inferno","domain":[0,1]},"legend":{"type":"gradient","title":null,"values":[0,0.2,0.4,0.6,0.8,1],"format":".1f","encode":{"labels":{"update":{"baseline":{"value":"middle"}}}}}}}},
{"data":{"name":"G"},"mark":{"type":"rect","binSpacing":0},
"encoding":{
"x":{"field":"a","type":"quantitative","bin":{"step":0.05,"extent":[0,1]}},
"y":{"field":"t","type":"quantitative","bin":{"step":0.05,"extent":[0,1]}},
"color":{"field":"v","type":"quantitative"}}},
{"data":{"name":"G"},"mark":{"type":"rect","binSpacing":0},
"encoding":{
"x":{"field":"a","type":"quantitative","bin":{"step":0.05,"extent":[0,1]}},
"y":{"field":"t","type":"quantitative","bin":{"step":0.05,"extent":[0,1]}},
"color":{"field":"v","type":"quantitative"}}},
{"data":{"values":[{}]},
"mark":{"type":"rect","fill":"transparent","stroke":"#333","strokeWidth":2},
"encoding":{"x":{"datum":0,"type":"quantitative"},"x2":{"datum":1},"y":{"datum":0,"type":"quantitative"},"y2":{"datum":1}}}
]},
{"title":"Transfers (νT)","width":382,"height":383,
"layer":[
{"data":{"name":"T"},"mark":{"type":"rect","binSpacing":0},
"encoding":{
"x":{"field":"a","type":"quantitative","bin":{"step":0.05,"extent":[0,1]},"axis":{"values":[0.2,0.4,0.6,0.8,1],"format":".1f","title":"Openness (α)"}},
"y":{"field":"t","type":"quantitative","bin":{"step":0.05,"extent":[0,1]},"axis":{"values":[0,0.2,0.4,0.6,0.8,1],"format":".1f","title":"Tax rate (τ)"}},
"color":{"field":"v","type":"quantitative","scale":{"scheme":"inferno","domain":[0,1]},"legend":{"type":"gradient","title":null,"values":[0,0.2,0.4,0.6,0.8,1],"format":".1f","encode":{"labels":{"update":{"baseline":{"value":"middle"}}}}}}}},
{"data":{"name":"T"},"mark":{"type":"rect","binSpacing":0},
"encoding":{
"x":{"field":"a","type":"quantitative","bin":{"step":0.05,"extent":[0,1]}},
"y":{"field":"t","type":"quantitative","bin":{"step":0.05,"extent":[0,1]}},
"color":{"field":"v","type":"quantitative"}}},
{"data":{"name":"T"},"mark":{"type":"rect","binSpacing":0},
"encoding":{
"x":{"field":"a","type":"quantitative","bin":{"step":0.05,"extent":[0,1]}},
"y":{"field":"t","type":"quantitative","bin":{"step":0.05,"extent":[0,1]}},
"color":{"field":"v","type":"quantitative"}}},
{"data":{"values":[{}]},
"mark":{"type":"rect","fill":"transparent","stroke":"#333","strokeWidth":2},
"encoding":{"x":{"datum":0,"type":"quantitative"},"x2":{"datum":1},"y":{"datum":0,"type":"quantitative"},"y2":{"datum":1}}}
]}
]
}
